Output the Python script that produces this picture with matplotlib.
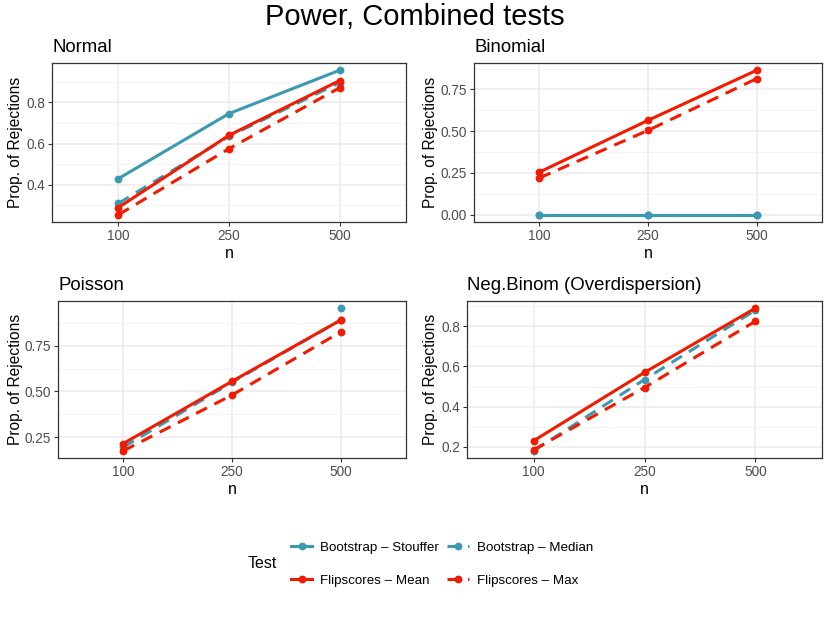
import matplotlib
matplotlib.use("Agg")
import matplotlib.pyplot as plt
import numpy as np
from matplotlib.ticker import MultipleLocator, FormatStrFormatter
from matplotlib.lines import Line2D

plt.rcParams['font.family'] = ['Liberation Sans', 'DejaVu Sans']

nan = np.nan
n_labels = ["100", "250", "500"]
panels = ["Normal", "Binomial", "Poisson", "Neg.Binom (Overdispersion)"]
tests = ["Bootstrap – Stouffer", "Flipscores – Mean", "Bootstrap – Median", "Flipscores – Max"]

# proportion of rejections, one row per panel
stouffer = [[0.43, 0.745, 0.955], [0.0, 0.0, 0.0], [nan, nan, 0.955], [nan, nan, nan]]
median = [[0.31, 0.635, 0.895], [0.0, 0.0, 0.0], [0.195, 0.55, 0.89], [0.18, 0.535, 0.88]]
mean = [[0.29, 0.64, 0.905], [0.255, 0.565, 0.865], [0.215, 0.555, 0.89], [0.23, 0.57, 0.89]]
fmax = [[0.255, 0.575, 0.87], [0.22, 0.505, 0.815], [0.175, 0.48, 0.825], [0.185, 0.495, 0.825]]

teal = "#3B9AB2"
red = "#F21A00"
W, H = 830, 623

# axes boxes in pixels: left, top, right, bottom
boxes = [(52, 63, 406, 222), (474, 63, 822, 222), (58, 301, 406, 458), (467, 301, 822, 458)]
ystep = [0.2, 0.25, 0.25, 0.2]
yfmt = ["%.1f", "%.2f", "%.2f", "%.1f"]
ylab_x = [23, 438, 23, 438]

fig = plt.figure(figsize=(W / 100, H / 100), dpi=100)

series = [(stouffer, teal, "-"), (median, teal, "--"), (mean, red, "-"), (fmax, red, "--")]
x = np.arange(len(n_labels))

for i, name in enumerate(panels):
    l, t, r, b = boxes[i]
    ax = fig.add_axes([l / W, 1 - b / H, (r - l) / W, (b - t) / H])
    for vals, col, ls in series:
        ln, = ax.plot(x, vals[i], color=col, lw=2.2, ls=ls, marker="o", ms=4.6, zorder=3)
        if ls == "--":
            ln.set_dashes((4, 2.7))
    ax.set_xlim(-0.6, 2.6)
    ax.margins(y=0.05)
    ax.set_xticks(x)
    ax.set_xticklabels(n_labels)
    ax.yaxis.set_major_locator(MultipleLocator(ystep[i]))
    ax.yaxis.set_minor_locator(MultipleLocator(ystep[i] / 2))
    ax.yaxis.set_major_formatter(FormatStrFormatter(yfmt[i]))
    ax.grid(True, which="major", color="#EBEBEB", lw=1.1, zorder=0)
    ax.grid(True, which="minor", axis="y", color="#F2F2F2", lw=0.6, zorder=0)
    ax.set_axisbelow(True)
    ax.tick_params(which="major", length=3, width=0.8, color="#333333",
                   labelsize=9.8, labelcolor="#4D4D4D", pad=2)
    ax.tick_params(which="minor", length=0)
    for s in ax.spines.values():
        s.set_color("#333333")
        s.set_linewidth(0.9)
    ax.set_xlabel("n", fontsize=11.5, labelpad=2)
    ax.set_ylabel("Prop. of Rejections", fontsize=11.2)
    ax.yaxis.set_label_coords((ylab_x[i] - l) / (r - l), 0.5)
    fig.text(l / W, 1 - (t - 16) / H, name, fontsize=13.4, va="center", ha="left")

fig.text(0.5, 1 - 17 / H, "Power, Combined tests", fontsize=21, ha="center", va="center")

handles = []
for col, ls in [(teal, "-"), (red, "-"), (teal, "--"), (red, "--")]:
    h = Line2D([], [], color=col, lw=2.2, ls=ls, marker="o", ms=4.6)
    if ls == "--":
        h.set_dashes((4, 2.7))
    handles.append(h)
fig.legend(handles, tests, ncol=2, loc="center left", bbox_to_anchor=(279 / W, 1 - 564 / H),
           frameon=False, fontsize=9.6, handlelength=1.6, handletextpad=0.6,
           columnspacing=0.6, labelspacing=1.55)
fig.text(248 / W, 1 - 564 / H, "Test", fontsize=11.5, va="center", ha="left")

fig.savefig("out.png", dpi=100)
